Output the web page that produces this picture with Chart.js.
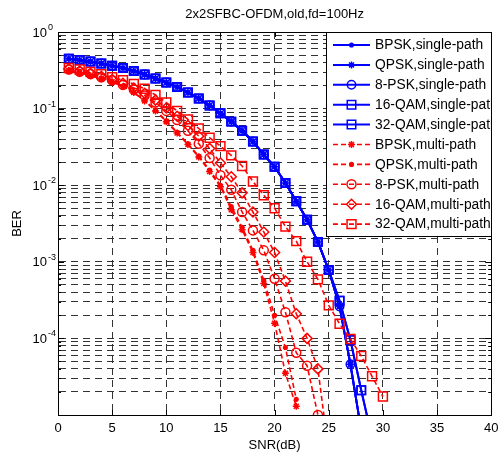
<!DOCTYPE html>
<html>
<head>
<meta charset="utf-8">
<script src="https://cdn.jsdelivr.net/npm/chart.js@4/dist/chart.umd.min.js"></script>
<style>
  html, body { margin: 0; padding: 0; background: #fff; }
  #wrap { width: 499px; height: 455px; }
</style>
</head>
<body>
<div id="wrap"><canvas id="chart" width="499" height="455"></canvas></div>
<script>
const SNR_DB = [1, 2, 3, 4, 5, 6, 7, 8, 9, 10, 11, 12, 13, 14, 15, 16, 17, 18, 19, 20, 21, 22, 23, 24, 25, 26, 27, 28, 29, 30];
const X_TICKS = [0, 5, 10, 15, 20, 25, 30, 35, 40];
const Y_DECADES = [-5, -4, -3, -2, -1];
const Y_MANTISSAS = [1, 2, 3, 4, 5, 6, 7, 8, 9];
const Y_LABELED = [0, -1, -2, -3, -4];

const SERIES_NAMES = [
  'BPSK,single-path', 'QPSK,single-path', '8-PSK,single-path', '16-QAM,single-path', '32-QAM,single-path',
  'BPSK,multi-path', 'QPSK,multi-path', '8-PSK,multi-path', '16-QAM,multi-path', '32-QAM,multi-path',
];

// single-path (blue), SNR 1..n
const BER_BPSK_SINGLE = [0.447, 0.431, 0.412, 0.389, 0.363, 0.339, 0.309, 0.279, 0.248, 0.219, 0.191, 0.162, 0.135, 0.110, 0.0871, 0.0676, 0.0513, 0.0372, 0.0251, 0.0174, 0.0107, 0.00617, 0.00355, 0.00182, 7.8e-4, 2.6e-4, 4.6e-5, 6.3e-6];
const BER_QPSK_SINGLE = [0.447, 0.431, 0.412, 0.389, 0.363, 0.339, 0.309, 0.279, 0.248, 0.219, 0.191, 0.162, 0.135, 0.110, 0.0871, 0.0676, 0.0513, 0.0372, 0.0251, 0.0174, 0.0107, 0.00617, 0.00355, 0.00182, 7.8e-4, 2.6e-4, 4.6e-5, 6.3e-6];
const BER_8PSK_SINGLE = [0.447, 0.431, 0.412, 0.389, 0.363, 0.339, 0.309, 0.279, 0.248, 0.219, 0.191, 0.162, 0.135, 0.110, 0.0871, 0.0676, 0.0513, 0.0372, 0.0251, 0.0174, 0.0107, 0.00617, 0.00355, 0.00182, 7.8e-4, 2.6e-4, 4.6e-5, 6.3e-6];
const BER_16QAM_SINGLE = [0.447, 0.431, 0.412, 0.389, 0.363, 0.339, 0.309, 0.279, 0.248, 0.219, 0.191, 0.162, 0.135, 0.110, 0.0871, 0.0676, 0.0513, 0.0372, 0.0251, 0.0174, 0.0107, 0.00617, 0.00355, 0.00182, 7.8e-4, 3.1e-4, 9.5e-5, 2.1e-5, 5.0e-6];
const BER_32QAM_SINGLE = [0.447, 0.431, 0.412, 0.389, 0.363, 0.339, 0.309, 0.279, 0.248, 0.219, 0.191, 0.162, 0.135, 0.110, 0.0871, 0.0676, 0.0513, 0.0372, 0.0251, 0.0174, 0.0107, 0.00617, 0.00355, 0.00182, 7.8e-4, 3.1e-4, 9.5e-5, 2.1e-5, 5.0e-6];

// multi-path (red)
const BER_BPSK_MULTI = [0.316, 0.295, 0.269, 0.245, 0.224, 0.195, 0.162, 0.126, 0.0933, 0.0676, 0.0479, 0.0339, 0.0234, 0.0151, 0.00955, 0.00479, 0.00263, 0.00132, 5.2e-4, 1.58e-4, 3.5e-5, 1.3e-5];
const BER_QPSK_MULTI = [0.316, 0.295, 0.269, 0.245, 0.224, 0.195, 0.162, 0.129, 0.0955, 0.0692, 0.049, 0.0347, 0.024, 0.0158, 0.01, 0.00525, 0.00282, 0.00141, 5.75e-4, 2.0e-4, 7.6e-5, 1.6e-5];
const BER_8PSK_MULTI = [0.324, 0.302, 0.282, 0.257, 0.234, 0.204, 0.178, 0.148, 0.120, 0.0933, 0.0708, 0.0513, 0.0347, 0.0226, 0.0135, 0.0087, 0.00447, 0.00257, 0.00141, 6.0e-4, 2.2e-4, 6.5e-5, 4.4e-5, 1.0e-5];
const BER_16QAM_MULTI = [0.331, 0.309, 0.288, 0.263, 0.240, 0.214, 0.186, 0.158, 0.129, 0.102, 0.0794, 0.0603, 0.0437, 0.0302, 0.0195, 0.0129, 0.00794, 0.00447, 0.00245, 0.00132, 5.6e-4, 2.1e-4, 1.0e-4, 4.0e-5, 3.2e-6];
const BER_32QAM_MULTI = [0.339, 0.324, 0.302, 0.282, 0.257, 0.234, 0.209, 0.182, 0.151, 0.120, 0.0933, 0.0724, 0.0550, 0.0417, 0.0324, 0.0245, 0.0178, 0.0112, 0.00741, 0.00501, 0.00288, 0.00186, 0.001, 5.9e-4, 2.7e-4, 1.55e-4, 9.8e-5, 5.9e-5, 3.2e-5, 1.74e-5];

const SERIES_VALUES = [
  BER_BPSK_SINGLE, BER_QPSK_SINGLE, BER_8PSK_SINGLE, BER_16QAM_SINGLE, BER_32QAM_SINGLE,
  BER_BPSK_MULTI, BER_QPSK_MULTI, BER_8PSK_MULTI, BER_16QAM_MULTI, BER_32QAM_MULTI,
];

const BLUE = '#0000ff';
const RED = '#ff0000';
const SERIES_STYLE = [
  { color: BLUE, dash: [], width: 2, marker: 'circle', r: 1.8, filled: true },
  { color: BLUE, dash: [], width: 2, marker: 'star', r: 3.5, filled: true },
  { color: BLUE, dash: [], width: 2, marker: 'circle', r: 4.2, filled: false },
  { color: BLUE, dash: [], width: 2, marker: 'rect', r: 6, filled: false },
  { color: BLUE, dash: [], width: 2, marker: 'rect', r: 6, filled: false },
  { color: RED, dash: [5, 3], width: 1.6, marker: 'star', r: 3.5, filled: true },
  { color: RED, dash: [5, 3], width: 1.6, marker: 'circle', r: 1.8, filled: true },
  { color: RED, dash: [5, 3], width: 1.6, marker: 'circle', r: 4.5, filled: false },
  { color: RED, dash: [5, 3], width: 1.6, marker: 'rectRot', r: 5, filled: false },
  { color: RED, dash: [5, 3], width: 1.6, marker: 'rect', r: 6.3, filled: false },
];

const FONT = "'Liberation Sans', Arial, Helvetica, sans-serif";

const datasets = SERIES_VALUES.map((vals, i) => {
  const s = SERIES_STYLE[i];
  return {
    label: SERIES_NAMES[i],
    data: vals.map((v, k) => ({ x: SNR_DB[k], y: v })),
    borderColor: s.color,
    borderWidth: s.width,
    borderDash: s.dash,
    pointStyle: s.marker,
    pointRadius: s.r,
    pointBorderColor: s.color,
    pointBorderWidth: 1.5,
    pointBackgroundColor: s.filled ? s.color : 'rgba(0,0,0,0)',
    fill: false,
    tension: 0,
    order: SERIES_VALUES.length - i,
  };
});

const yTickValues = [];
Y_DECADES.forEach((e) => {
  Y_MANTISSAS.forEach((m) => yTickValues.push(m * Math.pow(10, e)));
});
yTickValues.push(1);

const frame = {
  id: 'frame',
  afterDatasetsDraw(chart) {
    const { ctx, chartArea: a, scales } = chart;
    ctx.save();
    ctx.strokeStyle = '#000';
    ctx.lineWidth = 1;
    ctx.setLineDash([]);
    ctx.beginPath();
    // inward ticks
    X_TICKS.forEach((t) => {
      const x = Math.round(scales.x.getPixelForValue(t)) + 0.5;
      ctx.moveTo(x, a.bottom); ctx.lineTo(x, a.bottom - 5);
      ctx.moveTo(x, a.top); ctx.lineTo(x, a.top + 5);
    });
    yTickValues.forEach((v) => {
      const y = Math.round(scales.y.getPixelForValue(v)) + 0.5;
      const major = Math.abs(Math.log10(v) - Math.round(Math.log10(v))) < 1e-9;
      const len = major ? 6 : 3;
      ctx.moveTo(a.left, y); ctx.lineTo(a.left + len, y);
      ctx.moveTo(a.right, y); ctx.lineTo(a.right - len, y);
    });
    ctx.stroke();
    ctx.strokeRect(Math.round(a.left) + 0.5, Math.round(a.top) + 0.5, Math.round(a.right - a.left), Math.round(a.bottom - a.top));
    ctx.restore();
  },
  afterDraw(chart) {
    const { ctx, chartArea: a, scales } = chart;
    ctx.save();
    ctx.fillStyle = '#000';
    // y tick labels 10^n
    Y_LABELED.forEach((e) => {
      const y = scales.y.getPixelForValue(Math.pow(10, e));
      ctx.font = '13px ' + FONT;
      ctx.textAlign = 'right';
      ctx.textBaseline = 'middle';
      ctx.fillText('10', a.left - 11, y + 1);
      ctx.font = '9px ' + FONT;
      ctx.textAlign = 'left';
      ctx.textBaseline = 'alphabetic';
      ctx.fillText(String(e), a.left - 10, y - 2);
    });
    // titles
    const cx = (a.left + a.right) / 2;
    ctx.font = '13px ' + FONT;
    ctx.textAlign = 'center';
    ctx.textBaseline = 'middle';
    ctx.fillText('2x2SFBC-OFDM,old,fd=100Hz', cx, 14);
    ctx.fillText('SNR(dB)', cx, 445);
    ctx.save();
    ctx.translate(17, (a.top + a.bottom) / 2);
    ctx.rotate(-Math.PI / 2);
    ctx.fillText('BER', 0, 0);
    ctx.restore();

    // legend
    const bx = 326.5, by = 32.5, bw = 165, bh = 204;
    ctx.fillStyle = '#fff';
    ctx.fillRect(bx, by, bw, bh);
    ctx.strokeStyle = '#000';
    ctx.lineWidth = 1;
    ctx.strokeRect(bx, by, bw, bh);
    ctx.save();
    ctx.beginPath();
    ctx.rect(bx, by, bw, bh);
    ctx.clip();
    SERIES_NAMES.forEach((name, i) => {
      const s = SERIES_STYLE[i];
      const y = 45 + i * 19.9;
      ctx.strokeStyle = s.color;
      ctx.lineWidth = s.width;
      ctx.setLineDash(s.dash);
      ctx.beginPath();
      ctx.moveTo(333, y);
      ctx.lineTo(370, y);
      ctx.stroke();
      ctx.setLineDash([]);
      ctx.lineWidth = 1.5;
      ctx.fillStyle = s.filled ? s.color : 'rgba(0,0,0,0)';
      Chart.helpers.drawPoint(ctx, { pointStyle: s.marker, radius: s.r, rotation: 0, borderWidth: 1.5 }, 351.5, y);
      ctx.fillStyle = '#000';
      ctx.font = '13.8px ' + FONT;
      ctx.textAlign = 'left';
      ctx.textBaseline = 'middle';
      ctx.fillText(name, 375, y + 0.5);
    });
    ctx.restore();
    ctx.restore();
  },
};

new Chart(document.getElementById('chart'), {
  type: 'line',
  data: { datasets },
  options: {
    responsive: false,
    animation: false,
    devicePixelRatio: 1,
    layout: { padding: { top: 32, right: 5, bottom: 0, left: 0 } },
    plugins: { legend: { display: false }, tooltip: { enabled: false } },
    scales: {
      x: {
        type: 'linear',
        min: 0,
        max: 40,
        afterBuildTicks: (scale) => { scale.ticks = X_TICKS.map((v) => ({ value: v })); },
        afterFit: (scale) => { scale.height = 40; scale.paddingLeft = 0; scale.paddingRight = 0; },
        ticks: { color: '#000', font: { family: FONT, size: 13 }, padding: 6, maxRotation: 0 },
        grid: { color: '#333', lineWidth: 1, drawTicks: false },
        border: { display: true, color: '#000', width: 1, dash: [7, 5] },
      },
      y: {
        type: 'logarithmic',
        min: 1e-5,
        max: 1,
        afterBuildTicks: (scale) => { scale.ticks = yTickValues.map((v) => ({ value: v })); },
        afterFit: (scale) => { scale.width = 58; scale.paddingTop = 0; scale.paddingBottom = 0; },
        ticks: { display: false },
        grid: { color: '#333', lineWidth: 1, drawTicks: false },
        border: { display: true, color: '#000', width: 1, dash: [7, 5] },
      },
    },
  },
  plugins: [frame],
});
</script>
</body>
</html>
